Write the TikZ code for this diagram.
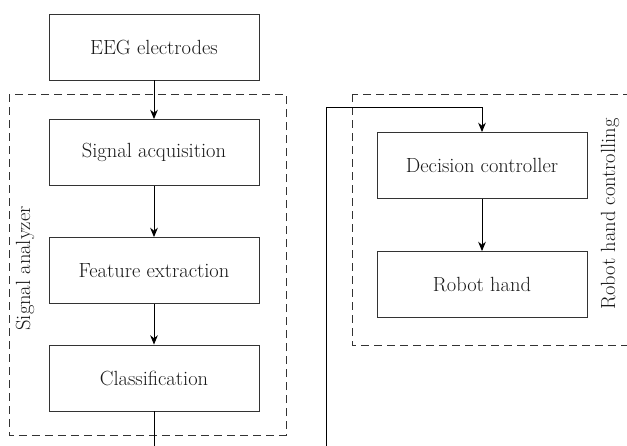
\documentclass[tikz,border=0pt]{standalone}
\usetikzlibrary{positioning, arrows.meta}

\begin{document}
\begin{tikzpicture}[-{Stealth[length = 2.8mm, width = 2.3mm, inset = 0.9mm]},
                    node distance = 3.5cm, on grid,
                    line width = 0.75pt,
                    font = \fontsize{17.5}{20}\selectfont,
                    block/.style = {rectangle,
                                    draw,
                                    black!80,
                                    text = black!90,
                                    minimum width = 6.3cm,
                                    minimum height = 1.98cm},
                    group/.style = {draw,
                                    black!80,
                                    dash pattern = on 2.5mm off 1.4mm},
                    grouplabel/.style = {rotate = 90,
                                         text = black!90}]

\useasboundingbox (0,0) rectangle (18.81,-13.35);
\clip (0,0) rectangle (18.81,-13.35);

% signal analyzer column
\node[block] (eeg) at (4.62,-1.41) {EEG electrodes};
\node[block] (acq) [below = 3.165cm of eeg] {Signal acquisition};
\node[block] (feat) [below = 3.54cm of acq] {Feature extraction};
\node[block] (cls) [below = 3.225cm of feat] {Classification};

% robot hand column
\node[block] (dec) at (14.46,-4.965) {Decision controller};
\node[block] (hand) [below = 3.57cm of dec] {Robot hand};

% dashed groups
\draw[group, -] (0.27,-2.82) rectangle (8.58,-13.05);
\draw[group, -] (10.56,-2.82) rectangle (19.5,-10.35);
\node[grouplabel] (analyzer) at (0.75,-8.05) {Signal analyzer};
\node[grouplabel] (control) at (18.3,-6.42) {Robot hand controlling};

\coordinate (clsout) at (4.62,-13.5);
\coordinate (feedin) at (9.78,-13.5);
\coordinate (feedtop) at (9.78,-3.21);

\path (eeg) edge (acq);
\path (acq) edge (feat);
\path (feat) edge (cls);
\path (dec) edge (hand);
\draw[-] (cls) -- (clsout);
\draw (feedin) -- (feedtop) -| (dec);

\end{tikzpicture}
\end{document}
